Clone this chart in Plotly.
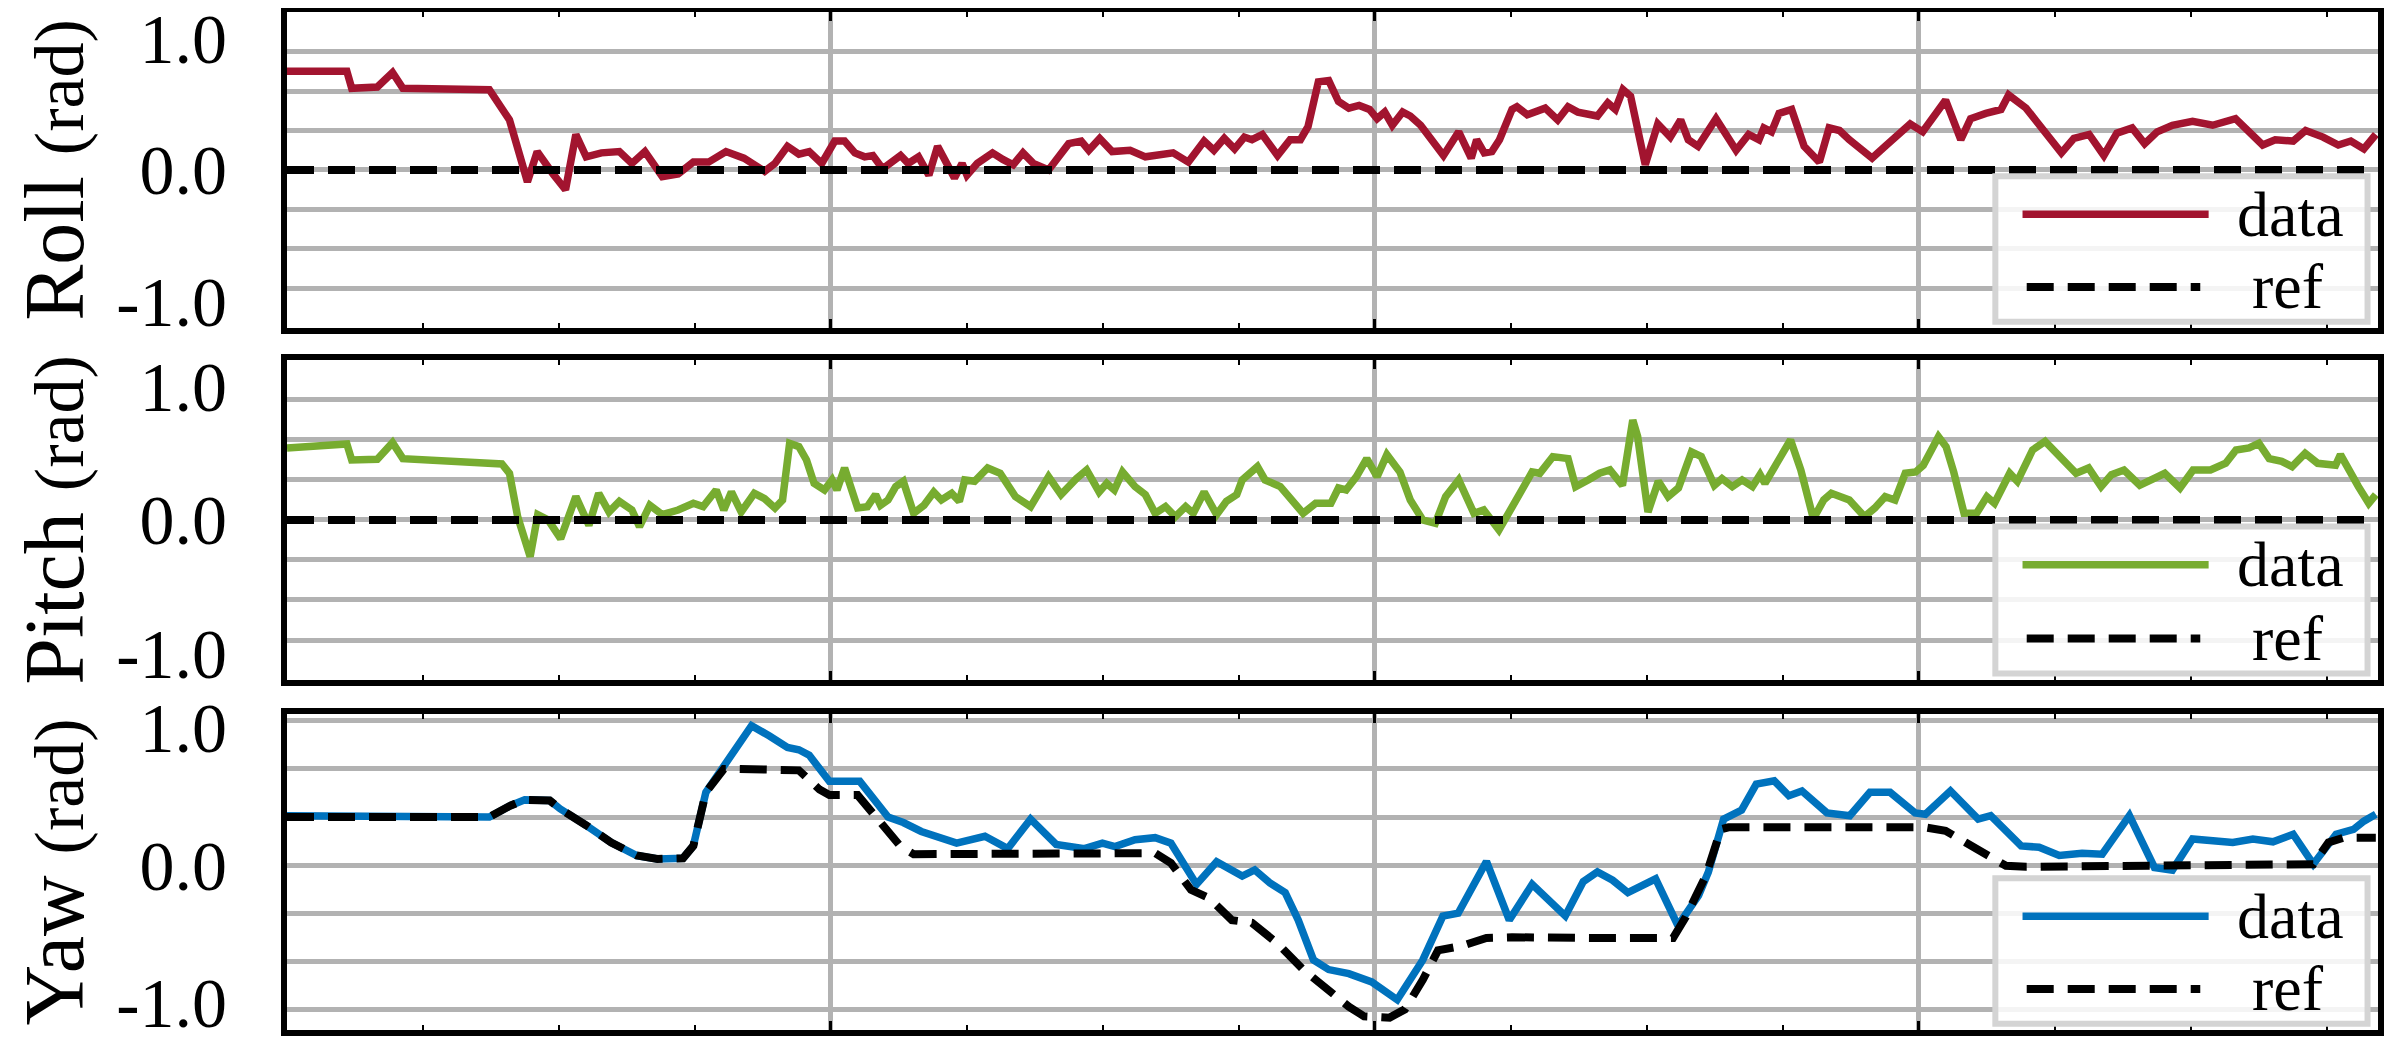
import numpy as np
import plotly.graph_objects as go
from plotly.subplots import make_subplots

# time (s); the original shows no x tick labels
T_END = 38.44

roll_t = [0.00, 1.10, 1.19, 1.66, 1.94, 2.13, 3.72, 4.09, 4.42, 4.60, 4.89, 5.12, 5.31, 5.50, 5.78,
          6.11, 6.34, 6.58, 6.90, 7.19, 7.47, 7.75, 8.07, 8.40, 8.78, 8.97, 9.20, 9.41, 9.60, 9.83,
          10.07, 10.25, 10.44, 10.62, 10.77, 10.95, 11.28, 11.42, 11.61, 11.80, 11.96, 12.27, 12.41,
          12.50, 12.69, 12.97, 13.16, 13.35, 13.53, 13.72, 14.00, 14.37, 14.60, 14.74, 14.94, 15.17,
          15.50, 15.78, 16.29, 16.57, 16.86, 17.04, 17.23, 17.42, 17.60, 17.74, 17.93, 18.21, 18.44,
          18.63, 18.77, 18.96, 19.15, 19.33, 19.52, 19.71, 19.90, 20.04, 20.18, 20.32, 20.51, 20.65,
          20.84, 21.26, 21.54, 21.77, 21.87, 22.01, 22.15, 22.29, 22.52, 22.61, 22.80, 23.13, 23.36,
          23.55, 23.73, 24.09, 24.28, 24.42, 24.56, 24.70, 24.97, 25.20, 25.43, 25.62, 25.76, 25.94,
          26.27, 26.64, 26.87, 27.06, 27.15, 27.29, 27.43, 27.66, 27.89, 28.17, 28.35, 28.54, 28.72,
          29.14, 29.38, 29.65, 29.84, 30.07, 30.49, 30.77, 30.95, 31.23, 31.51, 31.65, 31.97, 32.16,
          32.62, 32.85, 33.13, 33.40, 33.64, 33.92, 34.15, 34.38, 34.66, 35.03, 35.40, 35.82, 36.05,
          36.32, 36.55, 36.88, 37.11, 37.43, 37.71, 37.94, 38.18, 38.40]
roll = [0.75, 0.75, 0.62, 0.63, 0.74, 0.62, 0.61, 0.38, -0.09, 0.14, -0.03, -0.15, 0.27, 0.10, 0.13,
        0.14, 0.05, 0.14, -0.05, -0.03, 0.06, 0.06, 0.14, 0.09, -0.01, 0.05, 0.18, 0.12, 0.14, 0.05,
        0.22, 0.22, 0.13, 0.10, 0.11, 0.01, 0.11, 0.05, 0.10, -0.04, 0.18, -0.06, 0.05,
        -0.04, 0.05, 0.13, 0.08, 0.04, 0.13, 0.05, 0.00, 0.20, 0.22, 0.15, 0.24, 0.14,
        0.15, 0.10, 0.13, 0.06, 0.22, 0.15, 0.24, 0.16, 0.25, 0.23, 0.27, 0.11, 0.23,
        0.23, 0.33, 0.67, 0.68, 0.52, 0.47, 0.49, 0.46, 0.39, 0.44, 0.34, 0.44, 0.41,
        0.34, 0.11, 0.29, 0.09, 0.23, 0.13, 0.14, 0.23, 0.46, 0.48, 0.42, 0.47, 0.38,
        0.48, 0.44, 0.41, 0.51, 0.46, 0.61, 0.56, 0.04, 0.35, 0.25, 0.38, 0.23, 0.18,
        0.39, 0.15, 0.27, 0.23, 0.32, 0.29, 0.43, 0.46, 0.18, 0.06, 0.32, 0.30, 0.23,
        0.09, 0.18, 0.28, 0.35, 0.29, 0.53, 0.23, 0.39, 0.43, 0.46, 0.57, 0.47, 0.37,
        0.13, 0.24, 0.27, 0.11, 0.28, 0.32, 0.20, 0.29, 0.34, 0.37, 0.34, 0.39, 0.30,
        0.19, 0.23, 0.22, 0.30, 0.25, 0.19, 0.22, 0.16, 0.27]

pitch_t = [0.00, 1.10, 1.19, 1.66, 1.94, 2.13, 3.95, 4.09, 4.24, 4.47, 4.61, 4.80, 5.03, 5.31, 5.55,
           5.73, 5.92, 6.11, 6.34, 6.48, 6.67, 6.90, 7.19, 7.47, 7.65, 7.89, 8.03, 8.17, 8.35, 8.59,
           8.78, 8.97, 9.11, 9.24, 9.41, 9.55, 9.69, 9.88, 10.02, 10.11, 10.25, 10.49, 10.67, 10.82,
           10.91, 11.05, 11.19, 11.33, 11.52, 11.71, 11.89, 12.03, 12.22, 12.36, 12.46, 12.64, 12.88,
           13.11, 13.39, 13.67, 14.00, 14.23, 14.51, 14.70, 14.93, 15.07, 15.21, 15.36, 15.59, 15.78,
           15.96, 16.15, 16.33, 16.52, 16.66, 16.86, 17.09, 17.27, 17.46, 17.56, 17.84, 17.98, 18.26,
           18.68, 18.91, 19.19, 19.33, 19.47, 19.66, 19.85, 20.04, 20.22, 20.46, 20.65, 20.88, 21.11,
           21.30, 21.54, 21.82, 22.00, 22.28, 22.52, 22.70, 22.89, 23.03, 23.27, 23.55, 23.69, 23.92,
           24.13, 24.32, 24.55, 24.74, 24.83, 25.02, 25.21, 25.39, 25.58, 25.82, 26.00, 26.24, 26.38,
           26.57, 26.75, 26.94, 27.08, 27.17, 27.46, 27.64, 27.83, 28.06, 28.25, 28.39, 28.72, 29.00,
           29.19, 29.38, 29.56, 29.75, 29.94, 30.08, 30.36, 30.50, 30.64, 30.83, 31.06, 31.25, 31.39,
           31.67, 31.81, 32.09, 32.32, 32.65, 32.89, 33.12, 33.35, 33.54, 33.77, 34.06, 34.29, 34.52,
           34.80, 35.04, 35.36, 35.64, 35.83, 36.07, 36.25, 36.44, 36.67, 36.86, 37.10, 37.33, 37.66,
           37.75, 38.08, 38.27, 38.40]
pitch = [0.54, 0.57, 0.45, 0.455, 0.58, 0.46, 0.42, 0.35, 0.025, -0.275, 0.04, 0.0, -0.14, 0.175, -0.04,
         0.20, 0.06, 0.14, 0.075, -0.05, 0.11, 0.04, 0.075, 0.125, 0.10, 0.225, 0.075, 0.21, 0.06, 0.20,
         0.16, 0.09, 0.15, 0.575, 0.55, 0.45, 0.275, 0.225, 0.30, 0.225, 0.39, 0.09, 0.10, 0.19,
         0.11, 0.15, 0.25, 0.29, 0.05, 0.11, 0.21, 0.15, 0.20, 0.14, 0.30, 0.29, 0.39,
         0.35, 0.175, 0.10, 0.325, 0.19, 0.31, 0.375, 0.21, 0.275, 0.225, 0.36, 0.25, 0.19,
         0.05, 0.10, 0.025, 0.10, 0.05, 0.21, 0.04, 0.14, 0.19, 0.30, 0.40, 0.30, 0.25,
         0.05, 0.125, 0.125, 0.24, 0.225, 0.325, 0.46, 0.325, 0.49, 0.36, 0.15, 0.0, -0.025,
         0.175, 0.30, 0.05, 0.075, -0.075, 0.10, 0.25, 0.36, 0.35, 0.475, 0.46, 0.25, 0.30,
         0.35, 0.375, 0.26, 0.75, 0.625, 0.06, 0.29, 0.175, 0.24, 0.51, 0.475, 0.26, 0.31,
         0.25, 0.30, 0.25, 0.34, 0.275, 0.46, 0.60, 0.375, 0.01, 0.15, 0.20, 0.15, 0.025,
         0.09, 0.175, 0.15, 0.35, 0.36, 0.41, 0.625, 0.55, 0.36, 0.05, 0.05, 0.175, 0.125,
         0.35, 0.29, 0.525, 0.59, 0.46, 0.35, 0.39, 0.25, 0.34, 0.375, 0.26, 0.31, 0.35,
         0.24, 0.375, 0.375, 0.425, 0.525, 0.54, 0.575, 0.46, 0.44, 0.40, 0.50, 0.425, 0.41,
         0.49, 0.25, 0.125, 0.19]

yaw_t = [0.00, 3.72, 4.09, 4.37, 4.83, 5.02, 5.50, 5.96, 6.43, 6.81, 7.28, 7.47, 7.70, 8.03, 8.31,
         8.54, 8.87, 9.20, 9.41, 9.60, 9.97, 10.53, 11.05, 11.33, 11.66, 11.99, 12.31, 12.83, 13.25,
         13.67, 14.14, 14.66, 14.99, 15.22, 15.59, 15.96, 16.25, 16.72, 17.09, 17.56, 17.79, 18.07,
         18.35, 18.59, 18.87, 19.15, 19.52, 19.94, 20.41, 20.88, 21.25, 21.53, 22.05, 22.47, 22.89,
         23.50, 23.83, 24.09, 24.37, 24.65, 24.88, 25.16, 25.57, 25.95, 26.13, 26.41, 26.74, 27.01,
         27.34, 27.61, 27.85, 28.31, 28.73, 29.10, 29.47, 29.93, 30.12, 30.58, 31.09, 31.32, 31.88,
         32.21, 32.58, 33.00, 33.37, 33.87, 34.33, 34.66, 35.03, 35.40, 35.77, 36.14, 36.51, 36.88,
         37.25, 37.67, 37.99, 38.18, 38.40]
yaw = [0.36, 0.35, 0.43, 0.475, 0.47, 0.41, 0.29, 0.165, 0.07, 0.045, 0.05, 0.14, 0.53, 0.72, 0.905,
       1.015, 0.94, 0.857, 0.84, 0.80, 0.61, 0.61, 0.35, 0.31, 0.245, 0.20, 0.16, 0.21, 0.12,
       0.335, 0.15, 0.12, 0.16, 0.135, 0.185, 0.20, 0.16, -0.14, 0.025, -0.08, -0.035, -0.13,
       -0.20, -0.40, -0.69, -0.76, -0.79, -0.85, -0.98, -0.69, -0.37, -0.35, 0.027, -0.40, -0.14,
       -0.37, -0.12, -0.05, -0.11, -0.20, -0.15, -0.10, -0.44, -0.22, -0.05, 0.335, 0.40, 0.59,
       0.614, 0.505, 0.54, 0.38, 0.36, 0.53, 0.53, 0.38, 0.37, 0.54, 0.335, 0.36, 0.14,
       0.13, 0.07, 0.087, 0.08, 0.36, -0.017, -0.036, 0.19, 0.18, 0.165, 0.19, 0.17, 0.225,
       0.007, 0.225, 0.26, 0.32, 0.37]

yaw_ref_t = [0.00, 3.72, 4.09, 4.37, 4.83, 5.02, 5.50, 5.96, 6.43, 6.81, 7.28, 7.47, 7.70, 8.03, 8.30,
             9.20, 9.41, 9.79, 9.97, 10.49, 10.91, 11.28, 11.52, 15.96, 16.25, 16.62, 16.95, 17.37,
             17.74, 18.21, 18.68, 19.15, 19.52, 19.80, 20.27, 20.55, 20.88, 21.16, 21.58, 22.05, 22.52,
             24.09, 25.48, 25.71, 26.08, 26.36, 26.50, 30.12, 30.49, 30.86, 31.23, 31.60, 31.97, 33.82,
             37.25, 37.53, 37.81, 38.40]
yaw_ref = [0.35, 0.35, 0.43, 0.475, 0.47, 0.41, 0.29, 0.165, 0.07, 0.045, 0.05, 0.14, 0.53, 0.70, 0.70,
           0.69, 0.69, 0.55, 0.51, 0.51, 0.31, 0.136, 0.08, 0.087, 0.015, -0.18, -0.24, -0.40,
           -0.42, -0.57, -0.76, -0.91, -1.03, -1.10, -1.11, -1.05, -0.835, -0.62, -0.59, -0.53, -0.525,
           -0.53, -0.53, -0.38, -0.08, 0.26, 0.275, 0.275, 0.25, 0.165, 0.08, -0.005, -0.012, -0.01,
           0.007, 0.165, 0.20, 0.20]

# roll and pitch references are zero over the whole run
flat_ref_t = [0.0, T_END]
flat_ref = [0.0, 0.0]

SERIF = "Liberation Serif, Times New Roman, serif"
GRID = "#b2b2b2"
DASH = "27px,14px"

panels = [
    dict(name="Roll", t=roll_t, y=roll, rt=flat_ref_t, ry=flat_ref, color="#A2142F",
         yrange=[-1.2, 1.2], step=0.3, dom=[0.6896, 1.0]),
    dict(name="Pitch", t=pitch_t, y=pitch, rt=flat_ref_t, ry=flat_ref, color="#77AC30",
         yrange=[-1.2, 1.2], step=0.3, dom=[0.3438, 0.6582]),
    dict(name="Yaw", t=yaw_t, y=yaw, rt=yaw_ref_t, ry=yaw_ref, color="#0072BD",
         yrange=[-1.2, 1.1], step=0.35, dom=[0.0, 0.3104]),
]

fig = make_subplots(rows=3, cols=1, shared_xaxes=True)

for i, p in enumerate(panels, start=1):
    fig.add_trace(go.Scatter(x=p["t"], y=p["y"], mode="lines", name="data", showlegend=False,
                             line=dict(color=p["color"], width=7.5)), row=i, col=1)
    fig.add_trace(go.Scatter(x=p["rt"], y=p["ry"], mode="lines", name="ref", showlegend=False,
                             line=dict(color="black", width=8, dash=DASH)), row=i, col=1)

    grid_vals = [round(k * p["step"], 3) for k in range(-3, 4) if k != 0]
    fig.update_yaxes(
        row=i, col=1, domain=p["dom"], range=p["yrange"], automargin=False,
        tickmode="array", tickvals=[-1, 0, 1], ticktext=["-1.0", "0.0", "1.0"],
        tickfont=dict(family=SERIF, size=70, color="black"), ticklabelstandoff=40,
        ticklabeloverflow="allow",
        showgrid=False, zeroline=True, zerolinecolor=GRID, zerolinewidth=5,
        minor=dict(tickmode="array", tickvals=grid_vals, showgrid=True,
                   gridcolor=GRID, gridwidth=5, ticks=""),
        showline=True, mirror=True, linecolor="black", linewidth=6,
        title=dict(text=p["name"] + ' <span style="font-size:70px">(rad)</span>',
                   font=dict(family=SERIF, size=84, color="black"), standoff=16),
    )
    fig.update_xaxes(
        row=i, col=1, range=[0, T_END], tick0=0, dtick=10, automargin=False,
        showgrid=True, gridcolor=GRID, gridwidth=5, zeroline=False,
        ticks="inside", ticklen=9, tickwidth=3, tickcolor="black", showticklabels=False,
        minor=dict(tick0=0, dtick=2.5, ticks="inside", ticklen=5, tickwidth=2,
                   tickcolor="black", showgrid=False),
        showline=True, mirror="ticks", linecolor="black", linewidth=6,
    )

    # legend box drawn inside each panel, lower right corner
    xr = "x domain" if i == 1 else f"x{i} domain"
    yr = "y domain" if i == 1 else f"y{i} domain"
    fig.add_shape(type="rect", xref=xr, yref=yr, x0=0.817, x1=0.995, y0=0.02, y1=0.48,
                  fillcolor="rgba(255,255,255,0.85)", line=dict(color="#d4d4d4", width=6),
                  layer="above")
    fig.add_shape(type="line", xref=xr, yref=yr, x0=0.830, x1=0.919, y0=0.36, y1=0.36,
                  line=dict(color=p["color"], width=7.5), layer="above")
    fig.add_shape(type="line", xref=xr, yref=yr, x0=0.832, x1=0.915, y0=0.13, y1=0.13,
                  line=dict(color="black", width=8, dash=DASH), layer="above")
    fig.add_annotation(xref=xr, yref=yr, x=0.958, y=0.36, text="data", showarrow=False,
                       xanchor="center", yanchor="middle",
                       font=dict(family=SERIF, size=64, color="black"))
    fig.add_annotation(xref=xr, yref=yr, x=0.957, y=0.13, text="ref", showarrow=False,
                       xanchor="center", yanchor="middle",
                       font=dict(family=SERIF, size=64, color="black"))

# the page body adds an 8 px margin, so the figure is 16 px smaller than the window
fig.update_layout(
    width=2376, height=1028, autosize=False,
    margin=dict(l=279, r=6, t=4, b=6, autoexpand=False),
    paper_bgcolor="white", plot_bgcolor="white",
    font=dict(family=SERIF, color="black"),
    showlegend=False,
)

fig.write_html("out.html")
